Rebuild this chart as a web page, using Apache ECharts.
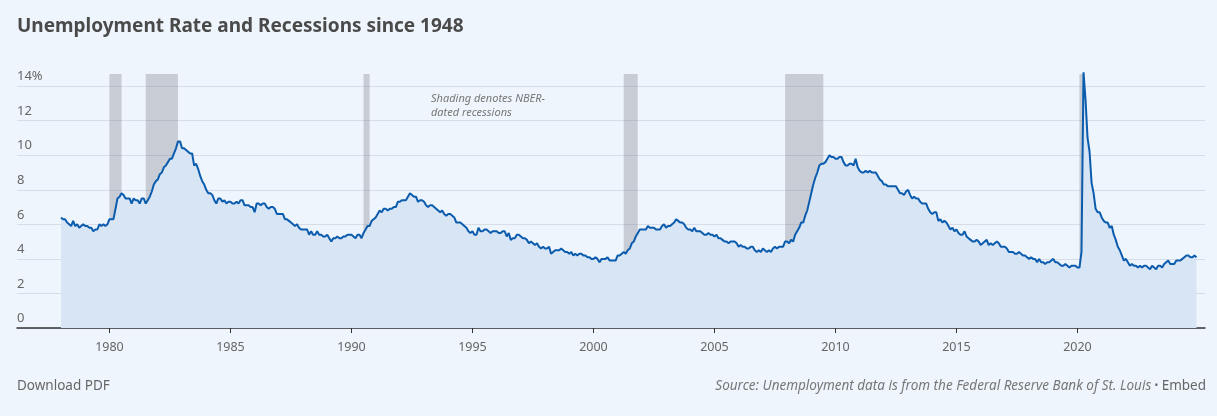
<!DOCTYPE html>
<html>
<head>
<meta charset="utf-8">
<script src="https://cdn.jsdelivr.net/npm/echarts@6/dist/echarts.min.js"></script>
<style>
  html, body { margin: 0; padding: 0; background: #eff5fc; }
  #chart { width: 1217px; height: 416px; }
</style>
</head>
<body>
<div id="chart"></div>
<script>
// monthly unemployment rate, Jan 1978 - Dec 2024 (one row per year)
var startYear = 1978;
var rates = [
  [6.4, 6.3, 6.3, 6.1, 6.0, 5.9, 6.2, 5.9, 6.0, 5.8, 5.9, 6.0],
  [5.9, 5.9, 5.8, 5.8, 5.6, 5.7, 5.7, 6.0, 5.9, 6.0, 5.9, 6.0],
  [6.3, 6.3, 6.3, 6.9, 7.5, 7.6, 7.8, 7.7, 7.5, 7.5, 7.5, 7.2],
  [7.5, 7.4, 7.4, 7.2, 7.5, 7.5, 7.2, 7.4, 7.6, 7.9, 8.3, 8.5],
  [8.6, 8.9, 9.0, 9.3, 9.4, 9.6, 9.8, 9.8, 10.1, 10.4, 10.8, 10.8],
  [10.4, 10.4, 10.3, 10.2, 10.1, 10.1, 9.4, 9.5, 9.2, 8.8, 8.5, 8.3],
  [8.0, 7.8, 7.8, 7.7, 7.4, 7.2, 7.5, 7.5, 7.3, 7.4, 7.2, 7.3],
  [7.3, 7.2, 7.2, 7.3, 7.2, 7.4, 7.4, 7.1, 7.1, 7.1, 7.0, 7.0],
  [6.7, 7.2, 7.2, 7.1, 7.2, 7.2, 7.0, 6.9, 7.0, 7.0, 6.9, 6.6],
  [6.6, 6.6, 6.6, 6.3, 6.3, 6.2, 6.1, 6.0, 5.9, 6.0, 5.8, 5.7],
  [5.7, 5.7, 5.7, 5.4, 5.6, 5.4, 5.4, 5.6, 5.4, 5.4, 5.3, 5.3],
  [5.4, 5.2, 5.0, 5.2, 5.2, 5.3, 5.2, 5.2, 5.3, 5.3, 5.4, 5.4],
  [5.4, 5.3, 5.2, 5.4, 5.4, 5.2, 5.5, 5.7, 5.9, 5.9, 6.2, 6.3],
  [6.4, 6.6, 6.8, 6.7, 6.9, 6.9, 6.8, 6.9, 6.9, 7.0, 7.0, 7.3],
  [7.3, 7.4, 7.4, 7.4, 7.6, 7.8, 7.7, 7.6, 7.6, 7.3, 7.4, 7.4],
  [7.3, 7.1, 7.0, 7.1, 7.1, 7.0, 6.9, 6.8, 6.7, 6.8, 6.6, 6.5],
  [6.6, 6.6, 6.5, 6.4, 6.1, 6.1, 6.1, 6.0, 5.9, 5.8, 5.6, 5.5],
  [5.6, 5.4, 5.4, 5.8, 5.6, 5.6, 5.7, 5.7, 5.6, 5.5, 5.6, 5.6],
  [5.6, 5.5, 5.5, 5.6, 5.6, 5.3, 5.5, 5.1, 5.2, 5.2, 5.4, 5.4],
  [5.3, 5.2, 5.2, 5.1, 4.9, 5.0, 4.9, 4.8, 4.9, 4.7, 4.6, 4.7],
  [4.6, 4.6, 4.7, 4.3, 4.4, 4.5, 4.5, 4.5, 4.6, 4.5, 4.4, 4.4],
  [4.3, 4.4, 4.2, 4.3, 4.2, 4.3, 4.3, 4.2, 4.2, 4.1, 4.1, 4.0],
  [4.0, 4.1, 4.0, 3.8, 4.0, 4.0, 4.0, 4.1, 3.9, 3.9, 3.9, 3.9],
  [4.2, 4.2, 4.3, 4.4, 4.3, 4.5, 4.6, 4.9, 5.0, 5.3, 5.5, 5.7],
  [5.7, 5.7, 5.7, 5.9, 5.8, 5.8, 5.8, 5.7, 5.7, 5.7, 5.9, 6.0],
  [5.8, 5.9, 5.9, 6.0, 6.1, 6.3, 6.2, 6.1, 6.1, 6.0, 5.8, 5.7],
  [5.7, 5.6, 5.8, 5.6, 5.6, 5.6, 5.5, 5.4, 5.4, 5.5, 5.4, 5.4],
  [5.3, 5.4, 5.2, 5.2, 5.1, 5.0, 5.0, 4.9, 5.0, 5.0, 5.0, 4.9],
  [4.7, 4.8, 4.7, 4.7, 4.6, 4.6, 4.7, 4.7, 4.5, 4.4, 4.5, 4.4],
  [4.6, 4.5, 4.4, 4.5, 4.4, 4.6, 4.7, 4.6, 4.7, 4.7, 4.7, 5.0],
  [5.0, 4.9, 5.1, 5.0, 5.4, 5.6, 5.8, 6.1, 6.1, 6.5, 6.8, 7.3],
  [7.8, 8.3, 8.7, 9.0, 9.4, 9.5, 9.5, 9.6, 9.8, 10.0, 9.9, 9.9],
  [9.8, 9.8, 9.9, 9.9, 9.6, 9.4, 9.4, 9.5, 9.5, 9.4, 9.8, 9.3],
  [9.1, 9.0, 9.0, 9.1, 9.0, 9.1, 9.0, 9.0, 9.0, 8.8, 8.6, 8.5],
  [8.3, 8.3, 8.2, 8.2, 8.2, 8.2, 8.2, 8.0, 7.8, 7.8, 7.7, 7.9],
  [8.0, 7.7, 7.5, 7.6, 7.5, 7.5, 7.3, 7.2, 7.2, 7.2, 6.9, 6.7],
  [6.6, 6.7, 6.7, 6.2, 6.3, 6.1, 6.2, 6.1, 5.9, 5.7, 5.8, 5.6],
  [5.7, 5.5, 5.4, 5.4, 5.6, 5.3, 5.2, 5.1, 5.0, 5.0, 5.1, 5.0],
  [4.8, 4.9, 5.0, 5.1, 4.8, 4.9, 4.8, 4.9, 5.0, 4.9, 4.7, 4.7],
  [4.7, 4.6, 4.4, 4.4, 4.4, 4.3, 4.3, 4.4, 4.3, 4.2, 4.2, 4.1],
  [4.0, 4.1, 4.0, 4.0, 3.8, 4.0, 3.8, 3.8, 3.7, 3.8, 3.8, 3.9],
  [4.0, 3.8, 3.8, 3.7, 3.6, 3.6, 3.7, 3.6, 3.5, 3.6, 3.6, 3.6],
  [3.5, 3.5, 4.4, 14.8, 13.2, 11.0, 10.2, 8.4, 7.8, 6.9, 6.7, 6.7],
  [6.4, 6.2, 6.1, 6.1, 5.8, 5.9, 5.4, 5.1, 4.7, 4.5, 4.2, 3.9],
  [4.0, 3.8, 3.6, 3.7, 3.6, 3.6, 3.5, 3.6, 3.5, 3.6, 3.6, 3.5],
  [3.4, 3.6, 3.5, 3.4, 3.6, 3.6, 3.5, 3.7, 3.8, 3.9, 3.7, 3.7],
  [3.7, 3.9, 3.9, 3.9, 4.0, 4.1, 4.2, 4.2, 4.1, 4.1, 4.2, 4.1]
];

// recession shading as in the picture [start, end] in decimal years
var recessionStart = [1980.0, 1981.5, 1990.5, 2001.25, 2007.92, 2020.08];
var recessionEnd   = [1980.5, 1982.83, 1990.75, 2001.83, 2009.5, 2020.25];

var yearTicks = [1980, 1985, 1990, 1995, 2000, 2005, 2010, 2015, 2020];
var rateTicks = [0, 2, 4, 6, 8, 10, 12, 14];

var points = [];
for (var i = 0; i < rates.length; i++) {
  for (var m = 0; m < 12; m++) {
    points.push([startYear + i + m / 12, rates[i][m]]);
  }
}

var shading = [];
for (var k = 0; k < recessionStart.length; k++) {
  shading.push([{ xAxis: recessionStart[k] }, { xAxis: recessionEnd[k] }]);
}

var chart = echarts.init(document.getElementById('chart'));

var option = {
  backgroundColor: '#eff5fc',
  animation: false,
  textStyle: { fontFamily: 'Noto Sans' },
  title: {
    text: 'Unemployment Rate and Recessions since 1948',
    left: 17,
    top: 17,
    padding: 0,
    textStyle: { fontSize: 19, fontWeight: 'bold', color: '#4a4a4a', fontFamily: 'Noto Sans' }
  },
  graphic: [
    {
      type: 'text', left: 431, top: 92,
      style: {
        text: 'Shading denotes NBER-\ndated recessions',
        font: 'italic 11px "Noto Sans"', fill: '#777', lineHeight: 14
      }
    },
    {
      type: 'text', left: 17, top: 379,
      style: { text: 'Download PDF', font: '13.5px "Noto Sans"', fill: '#666' }
    },
    {
      type: 'text', right: 11, top: 379,
      style: {
        text: '{s|Source: Unemployment data is from the Federal Reserve Bank of St. Louis} {d|•} {e|Embed}',
        rich: {
          s: { font: 'italic 13.5px "Noto Sans"', fill: '#777' },
          d: { font: '10px "Noto Sans"', fill: '#666' },
          e: { font: '13.5px "Noto Sans"', fill: '#666' }
        }
      }
    }
  ],
  grid: { left: 17, right: 12, top: 74, bottom: 88 },
  xAxis: {
    type: 'value',
    min: 1976.18,
    max: 2025.27,
    axisLine: { lineStyle: { color: '#333', width: 1.5 } },
    axisTick: { customValues: yearTicks, length: 5, lineStyle: { color: '#333' } },
    axisLabel: {
      customValues: yearTicks, margin: 13, color: '#666', fontSize: 12.5,
      fontFamily: 'Noto Sans',
      formatter: function (v) { return String(v); }
    },
    splitLine: { show: false }
  },
  yAxis: {
    type: 'value',
    min: 0,
    max: 14.7,
    axisLine: { show: false },
    axisTick: { show: false, customValues: rateTicks },
    axisLabel: {
      customValues: rateTicks,
      inside: true, margin: 0, verticalAlign: 'bottom', padding: [0, 0, 3, 0],
      color: '#666', fontSize: 13, fontFamily: 'Noto Sans',
      formatter: function (v) { return v === 14 ? '14%' : String(v); }
    },
    splitLine: { lineStyle: { color: '#d6dde8', width: 1 } }
  },
  series: [
    {
      name: 'area', type: 'line', data: points, z: 1,
      symbol: 'none', showSymbol: false,
      lineStyle: { width: 0, opacity: 0 },
      areaStyle: { color: '#d8e5f5', opacity: 1 },
      silent: true
    },
    {
      name: 'recessions', type: 'line', data: [], z: 2,
      symbol: 'none',
      markArea: {
        silent: true,
        itemStyle: { color: 'rgba(125,128,140,0.35)' },
        data: shading
      }
    },
    {
      name: 'Unemployment rate', type: 'line', data: points, z: 3,
      symbol: 'none', showSymbol: false, clip: false,
      lineStyle: { width: 2, color: '#0b5cad' }
    }
  ]
};

chart.setOption(option);
</script>
</body>
</html>
